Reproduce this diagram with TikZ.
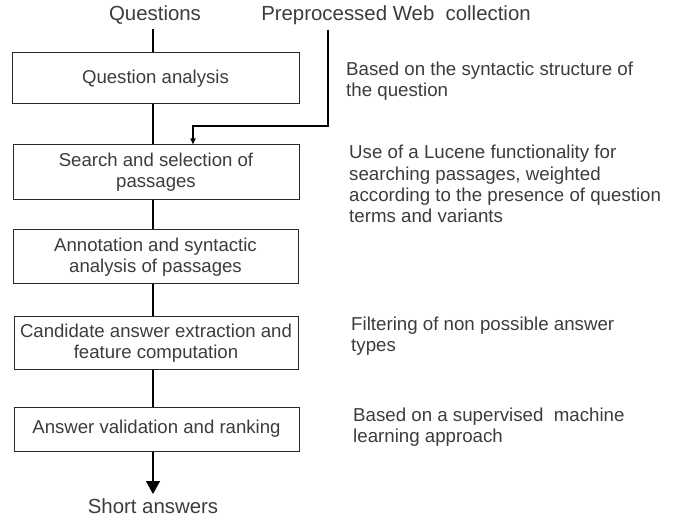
\documentclass[tikz,border=0pt]{standalone}
\usepackage{fontspec}
\setmainfont{Liberation Sans}
\usetikzlibrary{arrows.meta}
\definecolor{txt}{RGB}{60,60,60}
\definecolor{brd}{RGB}{40,40,40}
\tikzset{
  box/.style={draw=brd, line width=1pt, rectangle, align=center, inner sep=0pt,
    text=txt, font=\fontsize{18.6}{21.3}\selectfont},
  note/.style={anchor=west, align=left, inner sep=0pt, text=txt,
    font=\fontsize{18.7}{21.2}\selectfont},
  head/.style={inner sep=0pt, text=txt, font=\fontsize{20.4}{24}\selectfont},
  conn/.style={line width=1.5pt, black},
}
\begin{document}
\begin{tikzpicture}[x=1pt,y=-1pt]
\useasboundingbox (0,0) rectangle (677,518);
\coordinate (sp) at (153,0);
\node[head] (q) at (155,15) {Questions};
\node[head] (pw) at (396,15) {Preprocessed Web\ \ collection};
\node[box, minimum width=287, minimum height=51] (b1) at (155.5,78.5) {Question analysis};
\node[box, minimum width=286, minimum height=55] (b2) at (156,172.5) {Search and selection of\\passages};
\node[box, minimum width=285, minimum height=54] (b3) at (155.5,257) {Annotation and syntactic\\analysis of passages};
\node[box, minimum width=284, minimum height=52] (b4) at (156,343) {Candidate answer extraction and\\feature computation};
\node[box, minimum width=285, minimum height=44] (b5) at (156.5,429) {Answer validation and ranking};
\node[head] (sa) at (153,506) {Short answers};
\node[note] (n1) at (346,81) {Based on the syntactic structure of\\the question};
\node[note] (n2) at (349,184) {Use of a Lucene functionality for\\searching passages, weighted\\according to the presence of question\\terms and variants};
\node[note] (n3) at (351,336) {Filtering of non possible answer\\types};
\node[note] (n4) at (353,427) {Based on a supervised\ \ machine\\learning approach};
\coordinate (corner) at (328,126);
\coordinate (bend) at (193,126);
\coordinate (tip) at (153,494);
\draw[conn] (q.south -| sp) ++(0,4) -- (b1.north -| sp);
\draw[conn] (b1.south -| sp) -- (b2.north -| sp);
\draw[conn] (b2.south -| sp) -- (b3.north -| sp);
\draw[conn] (b3.south -| sp) -- (b4.north -| sp);
\draw[conn] (b4.south -| sp) -- (b5.north -| sp);
\draw[conn, -{Triangle[length=13pt,width=14pt]}] (b5.south -| sp) -- (tip);
\draw[conn, -{Triangle[length=6pt,width=5pt]}] (pw.south -| corner) ++(0,5) -- (corner) -- (bend) -- (b2.north -| bend);
\end{tikzpicture}
\end{document}
